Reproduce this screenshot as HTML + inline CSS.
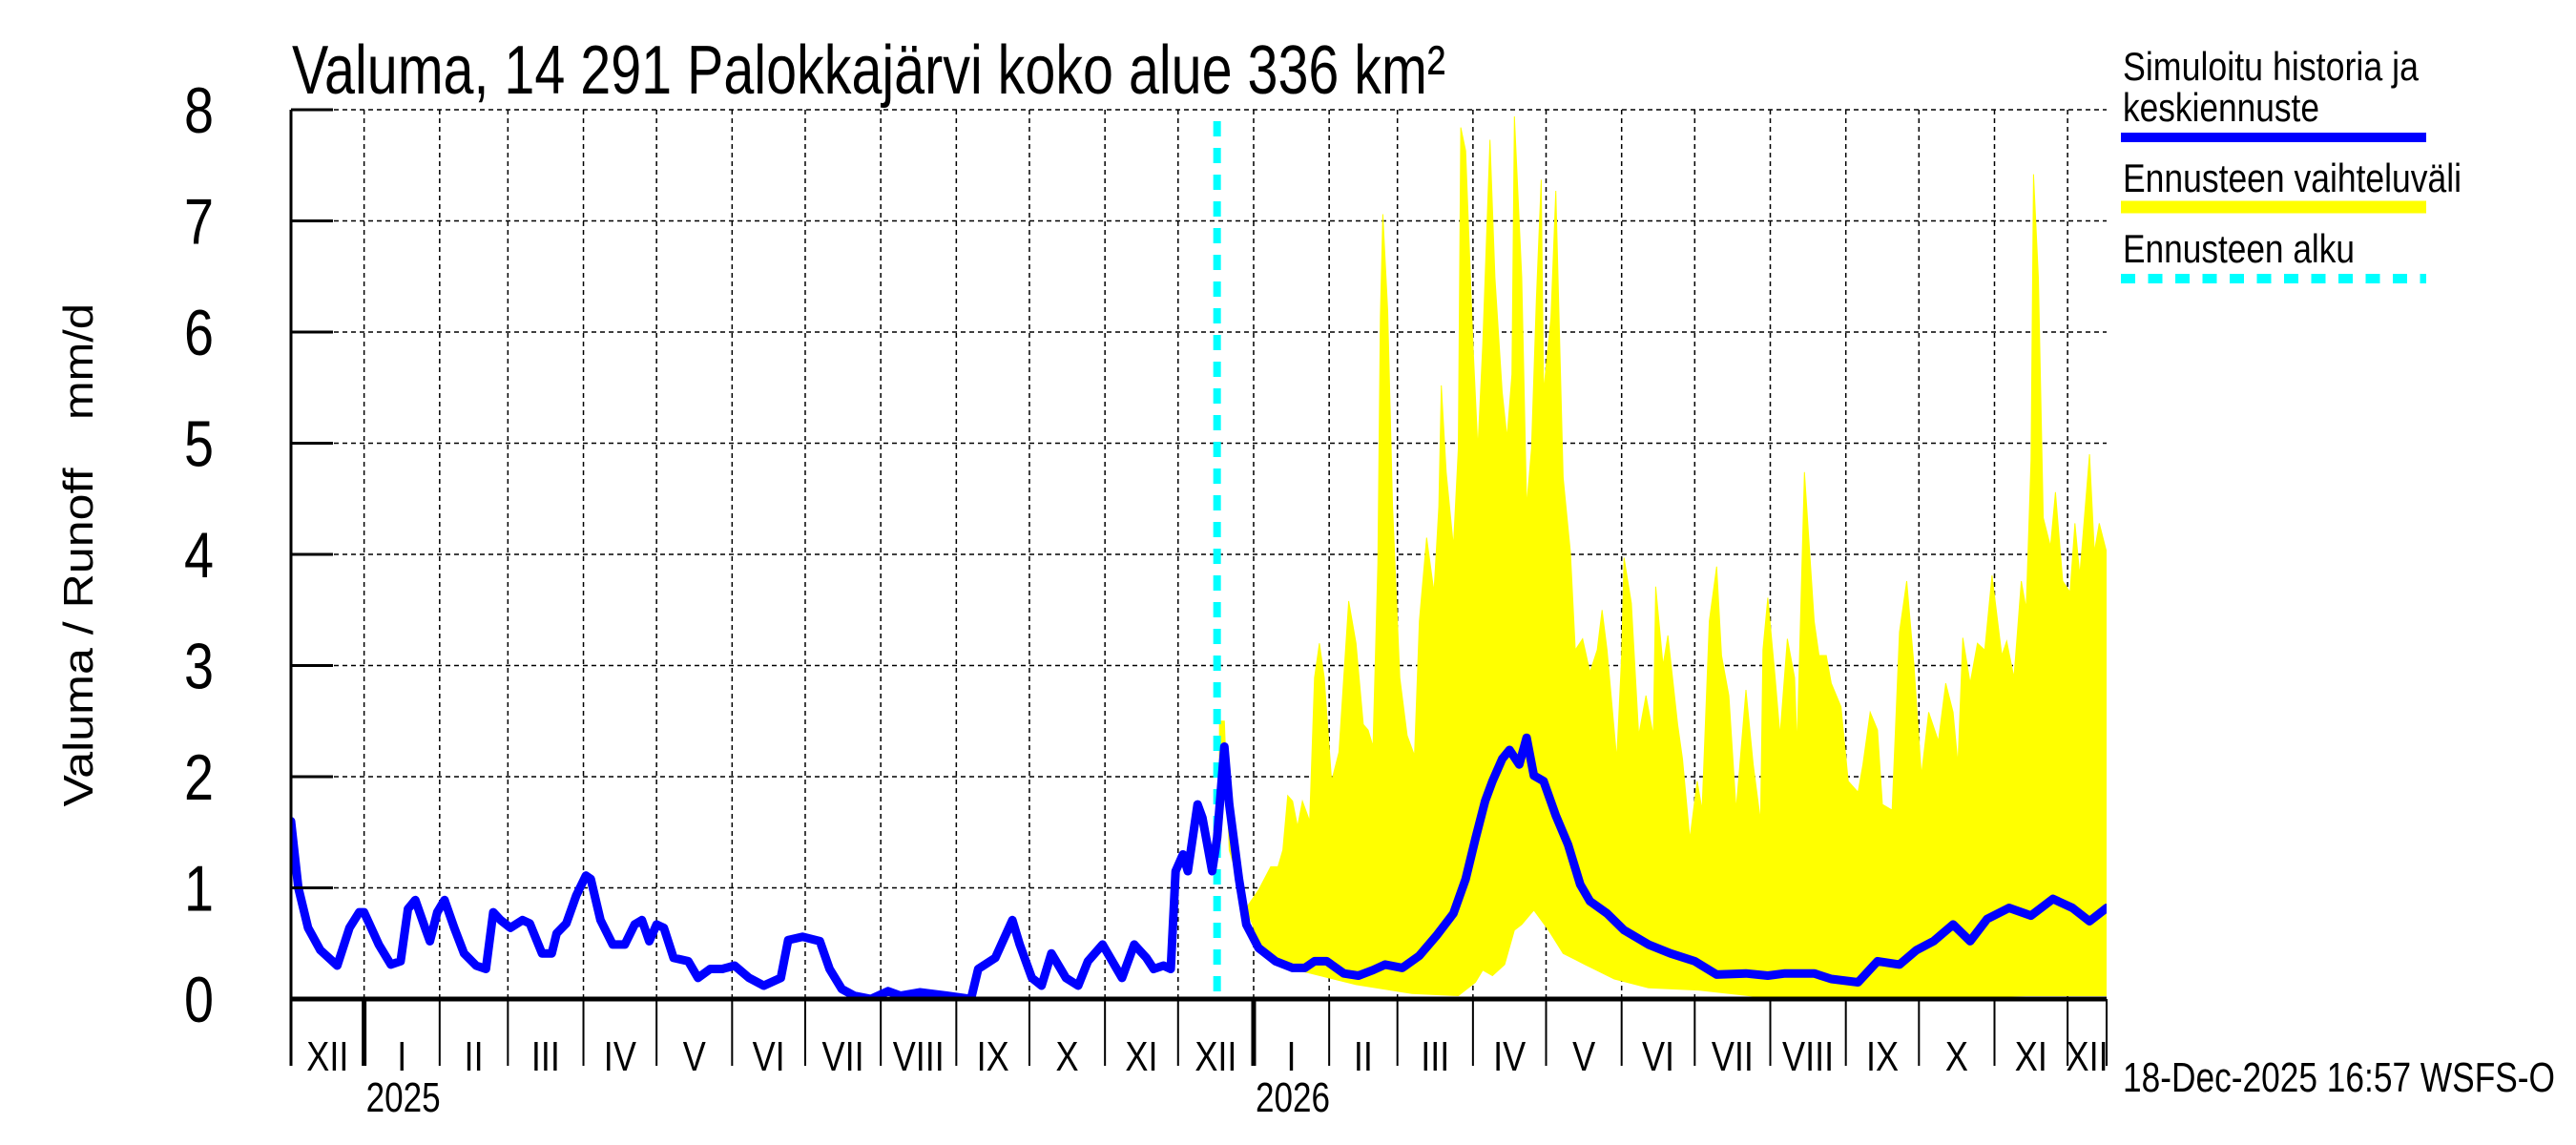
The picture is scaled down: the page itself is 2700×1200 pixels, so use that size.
<!DOCTYPE html>
<html><head><meta charset="utf-8"><style>
html,body{margin:0;padding:0;background:#fff;}
svg{display:block;font-family:"Liberation Sans",sans-serif;}
</style></head><body>
<svg id="chart" width="2700" height="1200" viewBox="0 0 2700 1200" xmlns="http://www.w3.org/2000/svg">
<rect width="2700" height="1200" fill="#fff"/>
<text x="306" y="98" font-size="72" textLength="1209" lengthAdjust="spacingAndGlyphs">Valuma, 14 291 Palokkajärvi koko alue 336 km²</text>
<text transform="translate(97,668) rotate(-90)" text-anchor="middle" font-size="44" textLength="355" lengthAdjust="spacingAndGlyphs">Valuma / Runoff</text>
<text transform="translate(97,379) rotate(-90)" text-anchor="middle" font-size="44" textLength="122" lengthAdjust="spacingAndGlyphs">mm/d</text>
<defs><clipPath id="plotclip"><rect x="305" y="60" width="1903" height="987"/></clipPath></defs>
<g id="grid"></g>
<g id="band" clip-path="url(#plotclip)"></g>
<g id="series" clip-path="url(#plotclip)"></g>
<g id="axes"></g>
<g>
<text x="2225" y="84" font-size="42" textLength="310" lengthAdjust="spacingAndGlyphs">Simuloitu historia ja</text>
<text x="2225" y="127" font-size="42" textLength="206" lengthAdjust="spacingAndGlyphs">keskiennuste</text>
<line x1="2223" y1="144" x2="2543" y2="144" stroke="#0000ff" stroke-width="10"/>
<text x="2225" y="201" font-size="42" textLength="355" lengthAdjust="spacingAndGlyphs">Ennusteen vaihteluväli</text>
<line x1="2223" y1="217" x2="2543" y2="217" stroke="#ffff00" stroke-width="13"/>
<text x="2225" y="275" font-size="42" textLength="243" lengthAdjust="spacingAndGlyphs">Ennusteen alku</text>
<line x1="2223" y1="292" x2="2543" y2="292" stroke="#00ffff" stroke-width="10" stroke-dasharray="15 13.5"/>
</g>
<text x="2225" y="1144" font-size="44" textLength="453" lengthAdjust="spacingAndGlyphs">18-Dec-2025 16:57 WSFS-O</text>
</svg>
<script>
const yTicks = [0,1,2,3,4,5,6,7,8];
const monthStarts = [0,30,61,89,120,150,181,211,242,273,303,334,364,395,426,454,485,515,546,576,607,638,668,699,729,745];
const monthLabels = ["XII","I","II","III","IV","V","VI","VII","VIII","IX","X","XI","XII","I","II","III","IV","V","VI","VII","VIII","IX","X","XI","XII"];
const yearLabels = ["2025","2026"];
const yearStarts = [30,395];
const forecastStartDay = 380;
const simDays = [0,3,7,12,19,24,28,30,36,41,45,48,51,55,57,60,63,67,71,76,80,83,86,90,95,98,103,107,109,113,117,121,123,127,132,137,141,144,147,150,153,157,163,167,172,177,182,188,194,201,204,210,217,221,226,231,238,245,250,258,269,279,282,289,296,299,304,308,312,318,323,327,333,337,341,346,351,354,358,361,363,366,368,372,374,378,380,383,385,389,392,397,404,411,416,420,425,432,438,444,449,456,463,470,477,482,486,490,493,497,500,504,507,510,514,519,524,529,533,540,547,557,566,576,585,597,606,613,625,632,643,651,660,667,674,682,689,696,705,714,723,731,738,745];
const simValues = [1.6,1.0,0.64,0.44,0.3,0.64,0.78,0.78,0.49,0.31,0.34,0.81,0.89,0.64,0.52,0.78,0.89,0.64,0.41,0.3,0.27,0.78,0.71,0.64,0.71,0.68,0.41,0.41,0.59,0.68,0.93,1.11,1.08,0.71,0.49,0.49,0.67,0.71,0.52,0.67,0.64,0.37,0.34,0.19,0.27,0.27,0.3,0.19,0.12,0.19,0.53,0.56,0.52,0.27,0.09,0.03,0,0.07,0.03,0.06,0.03,0,0.27,0.37,0.71,0.49,0.19,0.12,0.41,0.19,0.12,0.34,0.49,0.34,0.19,0.49,0.37,0.27,0.3,0.27,1.15,1.3,1.15,1.75,1.63,1.15,1.45,2.27,1.75,1.08,0.67,0.46,0.34,0.28,0.28,0.34,0.34,0.23,0.21,0.26,0.31,0.28,0.39,0.57,0.77,1.08,1.44,1.78,1.96,2.16,2.24,2.11,2.35,2.01,1.96,1.65,1.39,1.03,0.88,0.77,0.62,0.49,0.41,0.34,0.22,0.23,0.21,0.23,0.23,0.18,0.15,0.34,0.31,0.44,0.52,0.67,0.52,0.72,0.82,0.75,0.9,0.82,0.7,0.82];
const upperDays = [381,383,385,392,397,402,405,407,409,411,413,415,418,420,422,424,427,430,434,437,440,442,444,446,447,448,450,452,455,458,461,463,466,469,471,472,474,477,479,480,482,485,487,489,492,494,497,499,501,502,505,507,509,511,513,514,517,519,522,525,527,530,533,536,538,540,544,546,547,550,553,556,559,560,563,565,569,571,574,577,579,582,585,587,590,593,597,600,603,604,606,609,611,614,617,618,621,625,627,630,632,636,639,643,645,648,651,653,657,660,663,666,669,672,676,679,682,684,686,689,692,695,698,702,704,707,710,712,714,715,717,719,722,724,727,730,732,734,738,740,742,745];
const upperValues = [2.5,2.5,1.34,0.82,0.98,1.19,1.19,1.34,1.83,1.78,1.55,1.78,1.6,2.89,3.2,2.89,1.96,2.22,3.58,3.2,2.47,2.42,2.27,3.92,6.13,7.06,6.19,4.43,2.89,2.37,2.19,3.4,4.15,3.66,4.43,5.52,4.74,4.07,4.95,7.84,7.63,5.88,4.95,5.88,7.73,6.49,5.46,5.05,5.62,7.94,6.49,4.43,4.95,6.29,7.37,5.46,6.13,7.27,4.69,4.02,3.14,3.24,2.94,3.14,3.5,3.14,2.16,3.09,3.97,3.56,2.37,2.73,2.37,3.71,3.0,3.27,2.47,2.16,1.44,1.96,1.7,3.4,3.89,3.09,2.73,1.7,2.78,2.11,1.6,3.14,3.61,2.89,2.37,3.24,2.89,2.27,4.74,3.4,3.09,3.09,2.84,2.63,1.96,1.86,2.11,2.58,2.42,1.75,1.7,3.3,3.76,2.99,2.01,2.58,2.32,2.84,2.58,2.11,3.25,2.84,3.2,3.14,3.81,3.09,3.22,2.89,3.76,3.51,4.85,7.42,6.49,4.33,4.07,4.56,3.76,3.66,4.28,3.81,4.9,4.02,4.28,4.02];
const lowerDays = [381,383,392,399,413,437,460,479,486,489,493,498,502,505,510,516,522,531,543,557,578,606,637,684,712,745];
const lowerValues = [1.3,1.86,0.82,0.41,0.26,0.13,0.05,0.03,0.15,0.26,0.21,0.31,0.62,0.67,0.8,0.62,0.41,0.31,0.18,0.1,0.08,0.01,0,0.01,0.03,0.03];

const X0=305, X1=2208, Y0=1047, Y8=115, DMAX=745;
function xScale(d){return X0+d*(X1-X0)/DMAX;}
function yScale(v){return Y0-v*(Y0-Y8)/8;}
const NS="http://www.w3.org/2000/svg";
function mk(tag,parent,attrs){const e=document.createElementNS(NS,tag);for(const k in attrs)e.setAttribute(k,attrs[k]);parent.appendChild(e);return e;}
const grid=document.getElementById('grid'), band=document.getElementById('band'), series=document.getElementById('series'), axes=document.getElementById('axes');

yTicks.forEach(v=>{
  if(v>0){const g=mk('line',grid,{x1:X0,x2:X1,y1:yScale(v),y2:yScale(v),stroke:'#000','stroke-width':1.5,'stroke-dasharray':'5 4'});
  
  }
  const t=mk('line',axes,{x1:X0,x2:X0+44,y1:yScale(v),y2:yScale(v),stroke:'#000','stroke-width':3});
  
  
  const l=mk('text',axes,{x:0,y:0,'font-size':68,'text-anchor':'end',transform:'translate(224,'+(yScale(v)+24)+') scale(0.82,1)'});
  
  
  l.textContent=v;
});
monthStarts.forEach((d,i)=>{
  if(i>0&&i<monthStarts.length-1){const g=mk('line',grid,{x1:xScale(d),x2:xScale(d),y1:Y8,y2:Y0,stroke:'#000','stroke-width':1.5,'stroke-dasharray':'5 4'});
  
  }
  const isYear=yearStarts.indexOf(d)>=0;
  const t=mk('line',axes,{x1:xScale(d),x2:xScale(d),y1:Y0,y2:1117,stroke:'#000','stroke-width':isYear?5:2});
  
  
});
monthLabels.forEach((m,i)=>{
  const c=(xScale(monthStarts[i])+xScale(monthStarts[i+1]))/2;
  const l=mk('text',axes,{x:0,y:0,'font-size':44,'text-anchor':'middle',transform:'translate('+c+',1122) scale(0.82,1)'});
  
  
  l.textContent=m;
});
yearLabels.forEach((y,i)=>{
  const l=mk('text',axes,{x:xScale(yearStarts[i])+2,y:1165,'font-size':44,textLength:78,lengthAdjust:'spacingAndGlyphs'});
  
  
  l.textContent=y;
});
let pts=[];
upperDays.forEach((d,i)=>pts.push(xScale(d).toFixed(1)+','+yScale(upperValues[i]).toFixed(1)));
for(let i=lowerDays.length-1;i>=0;i--)pts.push(xScale(lowerDays[i]).toFixed(1)+','+yScale(lowerValues[i]).toFixed(1));
const poly=mk('polygon',band,{points:pts.join(' '),fill:'#ffff00',stroke:'#ffff00','stroke-width':1});


const fl=mk('line',series,{x1:xScale(forecastStartDay),x2:xScale(forecastStartDay),y1:Y8+12,y2:Y0,stroke:'#00ffff','stroke-width':8,'stroke-dasharray':'16 12'});


const sp=simDays.map((d,i)=>xScale(d).toFixed(1)+','+yScale(simValues[i]).toFixed(1)).join(' ');
const sl=mk('polyline',series,{points:sp,fill:'none',stroke:'#0000ff','stroke-width':9,'stroke-linejoin':'round','stroke-linecap':'round'});


const ya=mk('line',axes,{x1:X0,x2:X0,y1:Y8,y2:1117,stroke:'#000','stroke-width':3});


const xa=mk('line',axes,{x1:X0,x2:X1,y1:Y0,y2:Y0,stroke:'#000','stroke-width':5});


</script>
</body></html>
